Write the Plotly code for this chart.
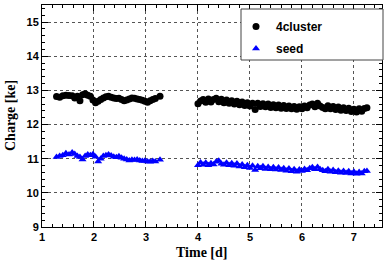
import plotly.graph_objects as go

# ---- data ----
time_a = [1.28, 1.34, 1.40, 1.46, 1.52, 1.58, 1.63, 1.68, 1.73, 1.78, 1.83, 1.88, 1.93,
          1.98, 2.03, 2.08, 2.13, 2.18, 2.23, 2.28, 2.33, 2.38, 2.43, 2.48, 2.53, 2.58,
          2.63, 2.68, 2.73, 2.78, 2.83, 2.88, 2.93, 2.98, 3.03, 3.08, 3.13, 3.18, 3.27]
cluster_a = [12.82, 12.80, 12.84, 12.86, 12.85, 12.84, 12.78, 12.83, 12.70, 12.87, 12.90,
             12.86, 12.83, 12.72, 12.64, 12.68, 12.73, 12.78, 12.81, 12.83, 12.80, 12.78,
             12.76, 12.77, 12.73, 12.70, 12.72, 12.75, 12.78, 12.77, 12.75, 12.73, 12.71,
             12.68, 12.65, 12.70, 12.73, 12.76, 12.83]
seed_a = [11.05, 11.08, 11.10, 11.16, 11.12, 11.18, 11.14, 11.08, 11.05, 10.98, 11.08,
          11.12, 11.10, 11.13, 11.06, 10.92, 11.00, 11.08, 11.10, 11.12, 11.09, 11.06,
          11.04, 11.07, 11.03, 11.00, 10.98, 10.95, 10.97, 10.96, 10.98, 10.95, 10.93,
          10.94, 10.92, 10.91, 10.93, 10.92, 10.97]

time_b = [4.00, 4.05, 4.10, 4.15, 4.20, 4.25, 4.30, 4.35, 4.40, 4.45, 4.50, 4.55, 4.60,
          4.65, 4.70, 4.75, 4.80, 4.85, 4.90, 4.95, 5.00, 5.05, 5.10, 5.15, 5.20, 5.25,
          5.30, 5.35, 5.40, 5.45, 5.50, 5.55, 5.60, 5.65, 5.70, 5.75, 5.80, 5.85, 5.90,
          5.95, 6.00, 6.05, 6.10, 6.15, 6.20, 6.25, 6.30, 6.35, 6.40, 6.45, 6.50, 6.55,
          6.60, 6.65, 6.70, 6.75, 6.80, 6.85, 6.90, 6.95, 7.00, 7.05, 7.10, 7.15, 7.20,
          7.25]
cluster_b = [12.61, 12.69, 12.73, 12.65, 12.75, 12.66, 12.73, 12.77, 12.67, 12.74, 12.64,
             12.72, 12.62, 12.70, 12.60, 12.68, 12.58, 12.66, 12.56, 12.64, 12.54, 12.62,
             12.44, 12.62, 12.53, 12.61, 12.52, 12.60, 12.50, 12.58, 12.49, 12.57, 12.48,
             12.56, 12.47, 12.54, 12.46, 12.53, 12.45, 12.52, 12.46, 12.54, 12.49, 12.57,
             12.60, 12.52, 12.62, 12.54, 12.50, 12.46, 12.55, 12.46, 12.53, 12.44, 12.51,
             12.42, 12.49, 12.41, 12.48, 12.38, 12.45, 12.37, 12.46, 12.39, 12.47, 12.49]
seed_b = [10.81, 10.89, 10.82, 10.88, 10.81, 10.87, 10.83, 10.91, 10.94, 10.85, 10.82,
          10.88, 10.81, 10.87, 10.79, 10.86, 10.77, 10.83, 10.75, 10.81, 10.73, 10.79,
          10.67, 10.78, 10.72, 10.78, 10.70, 10.76, 10.69, 10.75, 10.68, 10.74, 10.67,
          10.72, 10.65, 10.71, 10.63, 10.69, 10.62, 10.68, 10.64, 10.70, 10.66, 10.72,
          10.75, 10.69, 10.76, 10.69, 10.66, 10.63, 10.69, 10.62, 10.67, 10.60, 10.65,
          10.59, 10.64, 10.58, 10.63, 10.57, 10.62, 10.56, 10.61, 10.57, 10.63, 10.64]

x_ticks = [1, 2, 3, 4, 5, 6, 7]
y_ticks = [9, 10, 11, 12, 13, 14, 15]

fig = go.Figure()
fig.add_trace(go.Scatter(x=time_a + time_b, y=cluster_a + cluster_b, mode="markers",
                         name="4cluster", legendgroup="a",
                         marker=dict(symbol="circle", size=7, color="black")))
fig.add_trace(go.Scatter(x=time_a + time_b, y=seed_a + seed_b, mode="markers",
                         name="seed", legendgroup="b",
                         marker=dict(symbol="triangle-up", size=7, color="#0000ff")))

axis_common = dict(
    showline=True, linecolor="black", linewidth=1, mirror="ticks",
    ticks="inside", ticklen=6, tickcolor="black", tickwidth=1,
    showgrid=True, gridcolor="#555555", gridwidth=1, griddash="dot",
    zeroline=False,
    tickfont=dict(family="Liberation Sans, Arial", size=11, color="black", weight="bold"),
    minor=dict(dtick=0.2, ticks="inside", ticklen=3, tickcolor="black", showgrid=False),
)

fig.update_xaxes(range=[1, 7.54], tickvals=x_ticks, **axis_common)
fig.update_yaxes(range=[9, 15.5], tickvals=y_ticks, **axis_common)

fig.add_annotation(text="Charge [ke]", xref="paper", yref="paper", x=0, y=0.5,
                   xanchor="center", yanchor="middle", xshift=-32, textangle=-90,
                   showarrow=False,
                   font=dict(family="Liberation Serif, Times New Roman", size=14,
                             color="black", weight="bold"))
fig.add_annotation(text="Time [d]", xref="paper", yref="paper", x=0.47, y=0,
                   xanchor="center", yanchor="middle", yshift=-25,
                   showarrow=False,
                   font=dict(family="Liberation Serif, Times New Roman", size=14,
                             color="black", weight="bold"))

# legend box
fig.add_shape(type="rect", xref="paper", yref="paper",
              x0=(241 - 42) / 340, x1=(383 - 42) / 340,
              y0=1 - (60 - 5) / 222, y1=1 - (9 - 5) / 222,
              line=dict(color="#444444", width=1), fillcolor="white", layer="above")

fig.update_layout(
    width=390, height=263,
    margin=dict(l=42, r=8, t=5, b=36),
    paper_bgcolor="white", plot_bgcolor="white",
    showlegend=True,
    legend=dict(x=(236 - 42) / 340, y=1 - (12 - 5) / 222, xanchor="left", yanchor="top",
                bgcolor="rgba(0,0,0,0)", borderwidth=0, traceorder="grouped",
                tracegroupgap=3,
                font=dict(family="Liberation Sans, Arial", size=12, color="black",
                          weight="bold")),
)

fig.write_html("out.html", config={"displayModeBar": False},
               post_script="document.body.style.margin='0';")
